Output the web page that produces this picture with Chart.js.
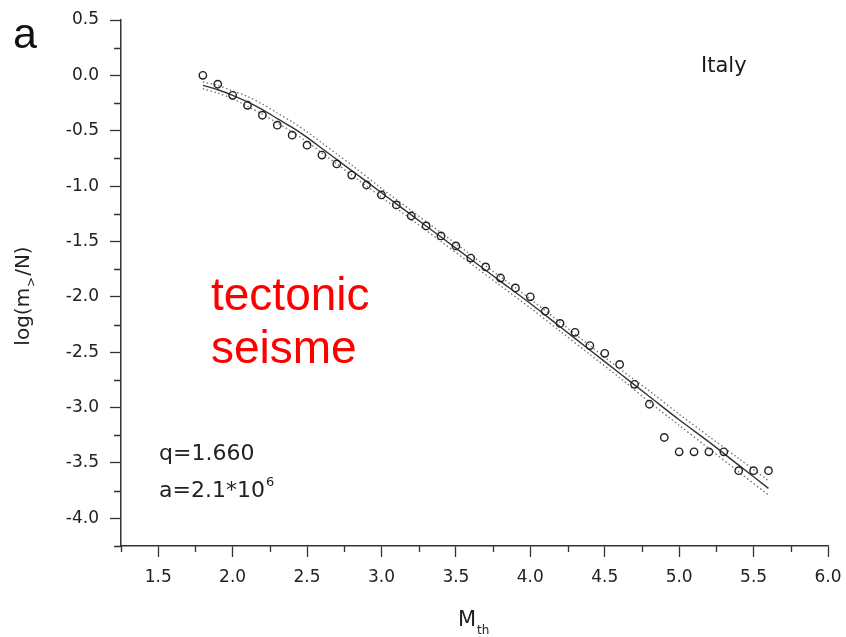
<!DOCTYPE html>
<html>
<head>
<meta charset="utf-8">
<script src="https://cdn.jsdelivr.net/npm/chart.js@4/dist/chart.umd.min.js"></script>
<style>
  html, body { margin: 0; padding: 0; background: #fff; }
  #wrap { width: 846px; height: 637px; }
</style>
</head>
<body>
<div id="wrap"><canvas id="gr" width="846" height="637"></canvas></div>
<script>
// threshold magnitude and observed log(m>/N)
const M_OBS = [1.8, 1.9, 2.0, 2.1, 2.2, 2.3, 2.4, 2.5, 2.6, 2.7, 2.8, 2.9, 3.0,
  3.1, 3.2, 3.3, 3.4, 3.5, 3.6, 3.7, 3.8, 3.9, 4.0, 4.1, 4.2, 4.3, 4.4, 4.5,
  4.6, 4.7, 4.8, 4.9, 5.0, 5.1, 5.2, 5.3, 5.4, 5.5, 5.6];
const LOG_OBS = [0.00, -0.08, -0.18, -0.27, -0.36, -0.45, -0.54, -0.63, -0.72,
  -0.80, -0.90, -0.99, -1.08, -1.17, -1.27, -1.36, -1.45, -1.54, -1.65, -1.73,
  -1.83, -1.92, -2.00, -2.13, -2.24, -2.32, -2.44, -2.51, -2.61, -2.79, -2.97,
  -3.27, -3.40, -3.40, -3.40, -3.40, -3.57, -3.57, -3.57];

// q-exponential fit and its band
const M_FIT = [1.8, 1.9, 2.0, 2.1, 2.2, 2.3, 2.4, 2.5, 2.6, 2.7, 2.8, 3.0, 3.2,
  3.4, 3.6, 3.8, 4.0, 4.2, 4.4, 4.6, 4.8, 5.0, 5.2, 5.4, 5.6];
const LOG_FIT = [-0.09, -0.13, -0.18, -0.24, -0.31, -0.39, -0.47, -0.56, -0.66,
  -0.76, -0.86, -1.06, -1.26, -1.46, -1.66, -1.86, -2.06, -2.27, -2.48, -2.69,
  -2.90, -3.11, -3.31, -3.52, -3.73];
const LOG_UPPER = [-0.06, -0.09, -0.14, -0.19, -0.26, -0.34, -0.42, -0.51, -0.61,
  -0.71, -0.81, -1.02, -1.22, -1.42, -1.62, -1.82, -2.02, -2.23, -2.44, -2.65,
  -2.85, -3.06, -3.26, -3.46, -3.66];
const LOG_LOWER = [-0.12, -0.16, -0.21, -0.28, -0.35, -0.43, -0.51, -0.60, -0.70,
  -0.80, -0.90, -1.10, -1.30, -1.50, -1.70, -1.90, -2.10, -2.31, -2.52, -2.73,
  -2.95, -3.16, -3.37, -3.58, -3.79];

const X_MIN = 1.25, X_MAX = 6.0;
const Y_MIN = -4.25, Y_MAX = 0.5;

const AXIS_COLOR = '#333';
const TICK_FONT = { family: '"DejaVu Sans"', size: 17 };
const isMajor = v => Math.abs(v * 2 - Math.round(v * 2)) < 1e-6;
const pts = (xs, ys) => xs.map((x, i) => ({ x, y: ys[i] }));

// short unlabeled ticks at the quarter steps
const minorTicks = {
  id: 'minorTicks',
  afterDraw(chart) {
    const { ctx, chartArea: a, scales } = chart;
    ctx.save();
    ctx.strokeStyle = AXIS_COLOR;
    ctx.lineWidth = 1.3;
    ctx.beginPath();
    scales.x.ticks.forEach(t => {
      if (isMajor(t.value)) return;
      const px = Math.round(scales.x.getPixelForValue(t.value)) + 0.5;
      ctx.moveTo(px, a.bottom); ctx.lineTo(px, a.bottom + 6);
    });
    scales.y.ticks.forEach(t => {
      if (isMajor(t.value)) return;
      const py = Math.round(scales.y.getPixelForValue(t.value)) + 0.5;
      ctx.moveTo(a.left - 7, py); ctx.lineTo(a.left, py);
    });
    ctx.stroke();
    ctx.restore();
  }
};

// panel letter, axis titles with sub/superscripts, notes
const labels = {
  id: 'labels',
  afterDraw(chart) {
    const { ctx, chartArea: a } = chart;
    ctx.save();
    ctx.textBaseline = 'alphabetic';
    ctx.textAlign = 'left';

    ctx.fillStyle = '#111';
    ctx.font = '43px "Liberation Sans"';
    ctx.fillText('a', 13, 48);

    ctx.fillStyle = '#1a1a1a';
    ctx.font = '21px "DejaVu Sans"';
    ctx.fillText('Italy', 701, 72);

    // fit parameters
    ctx.fillStyle = '#222';
    ctx.font = '22px "DejaVu Sans"';
    ctx.fillText('q=1.660', a.left + 38, 460);
    ctx.fillText('a=2.1*10', a.left + 38, 497);
    const w = ctx.measureText('a=2.1*10').width;
    ctx.font = '13px "DejaVu Sans"';
    ctx.fillText('6', a.left + 38 + w + 1, 486);

    // x title: M_th
    ctx.font = '21px "DejaVu Sans"';
    ctx.fillText('M', 458, 626);
    const mw = ctx.measureText('M').width;
    ctx.font = '12px "DejaVu Sans"';
    ctx.fillText('th', 458 + mw + 1, 634);

    // y title: log(m_>/N), rotated
    ctx.translate(29, 296);
    ctx.rotate(-Math.PI / 2);
    const big = '20px "DejaVu Sans"', small = '12px "DejaVu Sans"';
    ctx.font = big; const w1 = ctx.measureText('log(m').width;
    ctx.font = small; const w2 = ctx.measureText('>').width;
    ctx.font = big; const w3 = ctx.measureText('/N)').width;
    let x0 = -(w1 + w2 + w3 + 2) / 2;
    ctx.fillText('log(m', x0, 0);
    ctx.font = small; ctx.fillText('>', x0 + w1 + 1, 6);
    ctx.font = big; ctx.fillText('/N)', x0 + w1 + w2 + 2, 0);
    ctx.setTransform(1, 0, 0, 1, 0, 0);

    // red note
    ctx.fillStyle = '#ff0000';
    ctx.font = '46px "Liberation Sans"';
    ctx.fillText('tectonic', 211, 310);
    ctx.fillText('seisme', 211, 363);
    ctx.restore();
  }
};

new Chart(document.getElementById('gr').getContext('2d'), {
  type: 'scatter',
  data: {
    datasets: [
      {
        label: 'data',
        data: pts(M_OBS, LOG_OBS),
        pointStyle: 'circle',
        pointRadius: 3.7,
        pointBorderWidth: 1.4,
        pointBorderColor: '#222',
        pointBackgroundColor: 'rgba(0,0,0,0)',
        showLine: false,
      },
      {
        label: 'fit',
        data: pts(M_FIT, LOG_FIT),
        showLine: true, pointRadius: 0,
        borderColor: '#333', borderWidth: 1.4, tension: 0.3,
      },
      {
        label: 'upper',
        data: pts(M_FIT, LOG_UPPER),
        showLine: true, pointRadius: 0,
        borderColor: '#777', borderWidth: 1.4, borderDash: [1.5, 2.5], tension: 0.3,
      },
      {
        label: 'lower',
        data: pts(M_FIT, LOG_LOWER),
        showLine: true, pointRadius: 0,
        borderColor: '#777', borderWidth: 1.4, borderDash: [1.5, 2.5], tension: 0.3,
      },
    ],
  },
  options: {
    responsive: false,
    animation: false,
    layout: { padding: { top: 20, right: 18, left: 0, bottom: 0 } },
    plugins: { legend: { display: false }, tooltip: { enabled: false } },
    scales: {
      x: {
        type: 'linear', min: X_MIN, max: X_MAX,
        afterFit: s => { s.height = 91; s.paddingLeft = 0; s.paddingRight = 0; },
        ticks: {
          stepSize: 0.25, autoSkip: false, maxRotation: 0, padding: 10,
          color: '#222', font: TICK_FONT,
          callback: v => isMajor(v) ? v.toFixed(1) : '',
        },
        grid: {
          drawOnChartArea: false, tickLength: 11, tickWidth: 1.3,
          tickColor: c => (c.tick && isMajor(c.tick.value)) ? AXIS_COLOR : 'rgba(0,0,0,0)',
        },
        border: { color: AXIS_COLOR, width: 1.5 },
      },
      y: {
        type: 'linear', min: Y_MIN, max: Y_MAX,
        afterFit: s => { s.width = 121; s.paddingTop = 0; s.paddingBottom = 0; },
        ticks: {
          stepSize: 0.25, autoSkip: false, padding: 11,
          color: '#222', font: TICK_FONT,
          callback: v => isMajor(v) ? v.toFixed(1) : '',
        },
        grid: {
          drawOnChartArea: false, tickLength: 11, tickWidth: 1.3,
          tickColor: c => (c.tick && isMajor(c.tick.value)) ? AXIS_COLOR : 'rgba(0,0,0,0)',
        },
        border: { color: AXIS_COLOR, width: 1.5 },
      },
    },
  },
  plugins: [minorTicks, labels],
});
</script>
</body>
</html>
